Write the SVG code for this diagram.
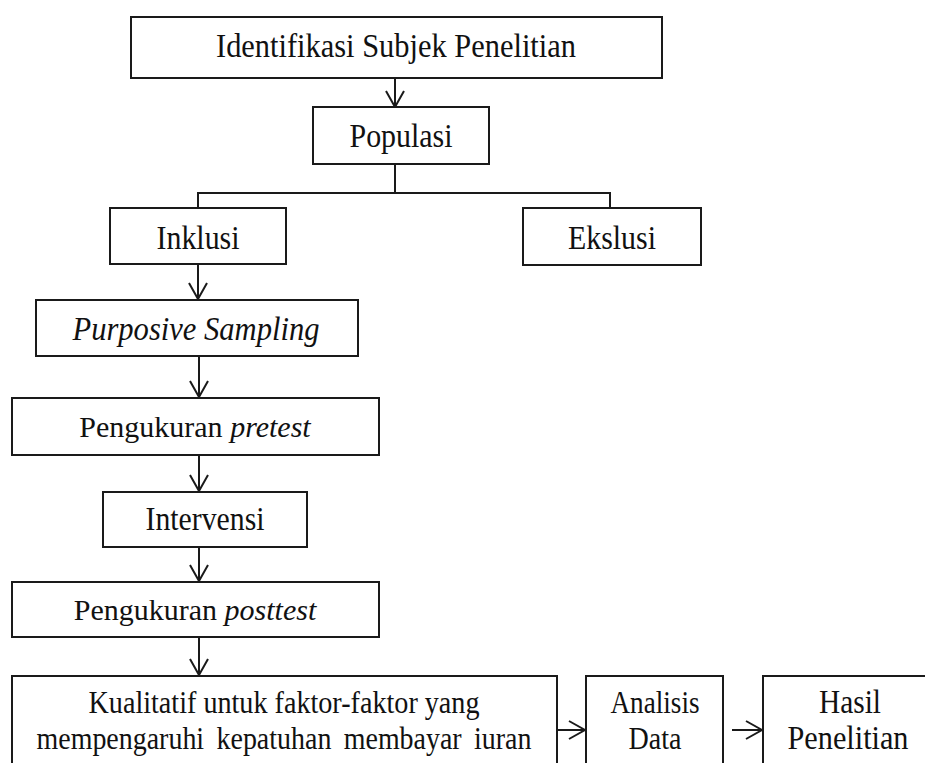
<svg xmlns="http://www.w3.org/2000/svg" width="925" height="763" viewBox="0 0 925 763">
<defs>
<style>
.box{fill:#fff;stroke:#1a1a1a;stroke-width:2}
.t{font-family:"Liberation Serif","Times New Roman",serif;font-size:33px;fill:#111;text-anchor:middle}
.m{font-size:30px}
.s{font-size:31px}
.i{font-style:italic}
.ln{fill:none;stroke:#1a1a1a;stroke-width:2}
</style>
<marker id="ah" viewBox="0 0 20 20" refX="18" refY="10" markerWidth="20" markerHeight="20" markerUnits="userSpaceOnUse" orient="auto">
<path d="M2,1 L18,10 L2,19" fill="none" stroke="#1a1a1a" stroke-width="2"/>
</marker>
</defs>
<rect width="925" height="763" fill="#fff"/>
<g id="connectors">
<line class="ln" x1="395" y1="78" x2="395" y2="107" marker-end="url(#ah)"/>
<polyline class="ln" points="395,164 395,193"/>
<polyline class="ln" points="198,208 198,193 610,193 610,208"/>
<line class="ln" x1="198" y1="264" x2="198" y2="299" marker-end="url(#ah)"/>
<line class="ln" x1="199" y1="356" x2="199" y2="397" marker-end="url(#ah)"/>
<line class="ln" x1="199" y1="455" x2="199" y2="491" marker-end="url(#ah)"/>
<line class="ln" x1="199" y1="547" x2="199" y2="581" marker-end="url(#ah)"/>
<line class="ln" x1="199" y1="637" x2="199" y2="675" marker-end="url(#ah)"/>
<line class="ln" x1="557" y1="730" x2="585" y2="730" marker-end="url(#ah)"/>
<line class="ln" x1="732" y1="730" x2="762" y2="730" marker-end="url(#ah)"/>
</g>
<g id="identifikasi">
<rect class="box" x="131" y="17" width="531" height="61"/>
<text class="t" x="396" y="57" textLength="360" lengthAdjust="spacingAndGlyphs">Identifikasi Subjek Penelitian</text>
</g>
<g id="populasi">
<rect class="box" x="313" y="107" width="176" height="57"/>
<text class="t" x="401" y="147" textLength="103" lengthAdjust="spacingAndGlyphs">Populasi</text>
</g>
<g id="inklusi">
<rect class="box" x="110" y="208" width="176" height="56"/>
<text class="t" x="198" y="249" textLength="83" lengthAdjust="spacingAndGlyphs">Inklusi</text>
</g>
<g id="ekslusi">
<rect class="box" x="523" y="208" width="178" height="57"/>
<text class="t" x="612" y="249" textLength="88" lengthAdjust="spacingAndGlyphs">Ekslusi</text>
</g>
<g id="purposive">
<rect class="box" x="36" y="300" width="322" height="56"/>
<text class="t i" x="196" y="340" textLength="247" lengthAdjust="spacingAndGlyphs">Purposive Sampling</text>
</g>
<g id="pretest">
<rect class="box" x="12" y="398" width="367" height="57"/>
<text class="t m" x="195" y="437">Pengukuran <tspan class="i">pretest</tspan></text>
</g>
<g id="intervensi">
<rect class="box" x="103" y="492" width="204" height="55"/>
<text class="t" x="205" y="530" textLength="119" lengthAdjust="spacingAndGlyphs">Intervensi</text>
</g>
<g id="posttest">
<rect class="box" x="12" y="582" width="367" height="55"/>
<text class="t m" x="195" y="620">Pengukuran <tspan class="i">posttest</tspan></text>
</g>
<g id="kualitatif">
<rect class="box" x="12" y="676" width="545" height="110"/>
<text class="t s" x="284" y="713" textLength="391" lengthAdjust="spacingAndGlyphs">Kualitatif untuk faktor-faktor yang</text>
<text class="t s" x="284" y="749" word-spacing="6" textLength="495" lengthAdjust="spacingAndGlyphs">mempengaruhi kepatuhan membayar iuran</text>
</g>
<g id="analisis">
<rect class="box" x="586" y="676" width="137" height="110"/>
<text class="t s" x="655" y="713" textLength="89" lengthAdjust="spacingAndGlyphs">Analisis</text>
<text class="t s" x="655" y="749" textLength="53" lengthAdjust="spacingAndGlyphs">Data</text>
</g>
<g id="hasil">
<rect class="box" x="763" y="676" width="170" height="110"/>
<text class="t" x="850" y="713" textLength="62" lengthAdjust="spacingAndGlyphs">Hasil</text>
<text class="t" x="848" y="749" textLength="121" lengthAdjust="spacingAndGlyphs">Penelitian</text>
</g>
</svg>
